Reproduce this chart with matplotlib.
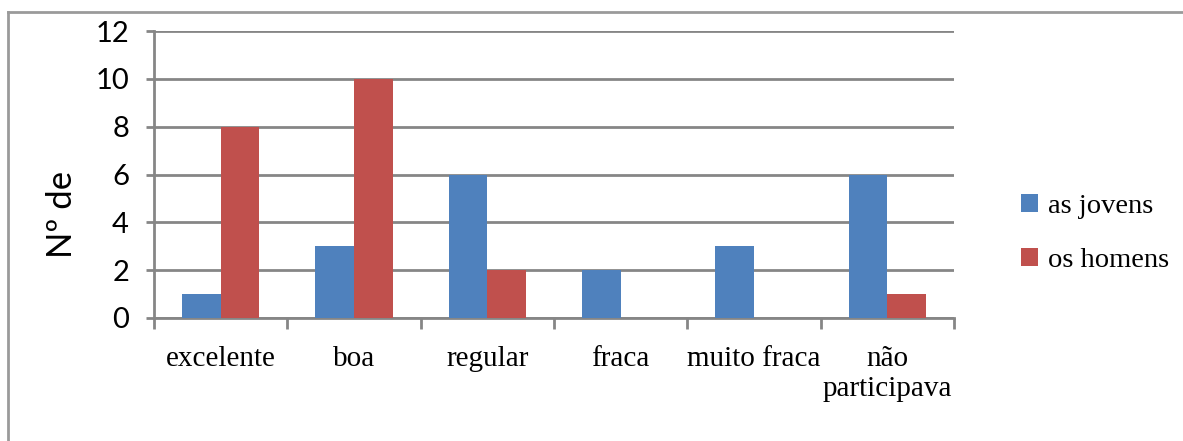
import numpy as np
from matplotlib import pyplot as plt
from matplotlib.lines import Line2D

categories = ['excelente', 'boa', 'regular', 'fraca', 'muito fraca', 'não\nparticipava']
jovens = [1, 3, 6, 2, 3, 6]
homens = [8, 10, 2, 0, 0, 1]
yticks = [0, 2, 4, 6, 8, 10, 12]

grid_col = '#868686'
blue = '#4F81BD'
red = '#C0504D'

fig = plt.figure(figsize=(11.83, 4.41), dpi=100)
W, H = 1183, 441
ax = fig.add_axes([154 / W, 1 - 318 / H, (954 - 154) / W, (318 - 31) / H])

x = np.arange(len(categories))
w = 0.29
ax.bar(x - w / 2, jovens, w, color=blue, label='as jovens', zorder=3)
ax.bar(x + w / 2, homens, w, color=red, label='os homens', zorder=3)

ax.set_xlim(-0.5, len(categories) - 0.5)
ax.set_ylim(0, 12)
ax.set_yticks(yticks)
ax.yaxis.grid(True, color=grid_col, linewidth=2)
ax.set_axisbelow(True)

for s in ['top', 'right']:
    ax.spines[s].set_visible(False)
for s in ['left', 'bottom']:
    ax.spines[s].set_color(grid_col)
    ax.spines[s].set_linewidth(2)

ax.tick_params(axis='y', length=6, width=2, color=grid_col, pad=12,
               labelsize=21)
for t in ax.get_yticklabels():
    t.set_fontfamily('Lato')

ax.set_xticks(x)
ax.set_xticklabels(categories, fontfamily='Liberation Serif', fontsize=21,
                   linespacing=1.2)
ax.set_xticks(np.arange(len(categories) + 1) - 0.5, minor=True)
ax.tick_params(axis='x', which='major', length=0, pad=20)
ax.tick_params(axis='x', which='minor', length=8, width=2, color=grid_col)

ax.set_ylabel('Nº de', fontfamily='Lato', fontsize=25)
ax.yaxis.set_label_coords(-0.095, 0.362)

leg = fig.legend(loc='upper left', bbox_to_anchor=(1007 / W, 1 - 180 / H),
                 frameon=False, prop={'family': 'Liberation Serif', 'size': 20.5},
                 handlelength=0.6, handleheight=0.6, handletextpad=0.35,
                 labelspacing=1.0, borderpad=0)

# outer frame (only top and left visible in the crop)
fig.add_artist(Line2D([8 / W, 8 / W], [0, 1 - 12 / H], transform=fig.transFigure,
                      color='#9a9a9a', linewidth=2))
fig.add_artist(Line2D([8 / W, 1], [1 - 12 / H, 1 - 12 / H], transform=fig.transFigure,
                      color='#9a9a9a', linewidth=2))

fig.savefig('out.png', dpi=100)
